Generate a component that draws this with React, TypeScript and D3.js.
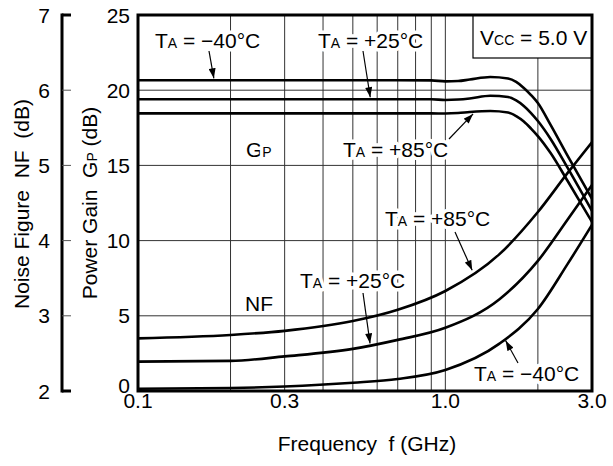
import React from 'react';
import * as d3 from 'd3';

// frequency (GHz) sample points
const freqGain = [0.1, 0.3, 0.7, 0.9, 1.0, 1.1, 1.2, 1.4, 1.6, 1.7, 1.8, 1.9, 2.0, 2.2, 2.5, 3.0];
const gainM40 = [20.66, 20.66, 20.66, 20.65, 20.59, 20.61, 20.71, 20.88, 20.78, 20.55, 20.15, 19.68, 19.15, 17.69, 15.63, 12.77];
const gainP25 = [19.4, 19.4, 19.4, 19.4, 19.35, 19.38, 19.45, 19.63, 19.55, 19.32, 18.95, 18.48, 17.95, 16.76, 14.83, 11.97];
const gainP85 = [18.46, 18.46, 18.46, 18.46, 18.45, 18.48, 18.55, 18.62, 18.52, 18.28, 17.92, 17.45, 16.95, 15.82, 13.96, 11.24];

const freqNF = [0.1, 0.2, 0.3, 0.5, 0.7, 1.0, 1.5, 2.0, 2.5, 3.0];
const nfM40 = [2.03, 2.04, 2.06, 2.11, 2.16, 2.28, 2.63, 3.09, 3.69, 4.21];
const nfP25 = [2.39, 2.4, 2.46, 2.56, 2.68, 2.84, 3.22, 3.73, 4.28, 4.74];
const nfP85 = [2.7, 2.745, 2.8, 2.93, 3.08, 3.33, 3.82, 4.38, 4.9, 5.31];

const xTicks = [0.1, 0.3, 1.0, 3.0];
const xGrid = [0.2, 0.3, 0.4, 0.5, 0.6, 0.7, 0.8, 0.9, 1.0, 2.0];
const gainTicks = [0, 5, 10, 15, 20, 25];
const gainGrid = [5, 10, 15, 20];
const nfTicks = [2, 3, 4, 5, 6, 7];

const W = 613, H = 466;
const m = { left: 138, right: 592, top: 15, bottom: 391 };
const FONT = '"Liberation Sans", Arial, Helvetica, sans-serif';
const FS = 21;
const SUB = 14;

const x = d3.scaleLog().domain([0.1, 3.0]).range([m.left, m.right]);
const yG = d3.scaleLinear().domain([0, 25]).range([m.bottom, m.top]);
const yN = d3.scaleLinear().domain([2, 7]).range([m.bottom, m.top]);

// value of a series at frequency f (linear in log f)
function valueAt(fs: number[], vs: number[], f: number) {
  for (let i = 0; i < fs.length - 1; i++) {
    if (f >= fs[i] && f <= fs[i + 1]) {
      const t = (Math.log(f) - Math.log(fs[i])) / (Math.log(fs[i + 1]) - Math.log(fs[i]));
      return vs[i] + t * (vs[i + 1] - vs[i]);
    }
  }
  return vs[vs.length - 1];
}

const line = (fs: number[], ys: (v: number) => number) =>
  d3.line<number>()
    .x((_, i) => x(fs[i]))
    .y(d => ys(d))
    .curve(d3.curveMonotoneX);

const halo = { stroke: '#fff', strokeWidth: 7, paintOrder: 'stroke', strokeLinejoin: 'round' as const };

const TLabel = ({ px, py, temp }: { px: number; py: number; temp: string }) => (
  <text x={px} y={py} fontSize={FS} style={{ whiteSpace: 'pre', ...halo }}>
    T<tspan fontSize={SUB}>A</tspan>{' = ' + temp}
  </text>
);

// arrow from (x1,y1) to a point on a curve at freq f
const Arrow = ({ x1, y1, fs, vs, f, scale, off }: any) => {
  const tx = x(f), ty = scale(valueAt(fs, vs, f));
  const dx = tx - x1, dy = ty - y1;
  const len = Math.sqrt(dx * dx + dy * dy);
  const ex = tx - (dx / len) * off, ey = ty - (dy / len) * off;
  return <line x1={x1} y1={y1} x2={ex} y2={ey} stroke="#000" strokeWidth={1.2} markerEnd="url(#ah)" />;
};

export default function App() {
  const curves = [
    line(freqNF, yN)(nfM40),
    line(freqNF, yN)(nfP25),
    line(freqNF, yN)(nfP85),
    line(freqGain, yG)(gainM40),
    line(freqGain, yG)(gainP25),
    line(freqGain, yG)(gainP85),
  ];

  return (
    <svg width={W} height={H} style={{ position: 'absolute', left: 0, top: 0, background: '#fff' }}
      fontFamily={FONT}>
      <defs>
        <clipPath id="plotclip">
          <rect x={m.left} y={m.top} width={m.right - m.left} height={m.bottom - m.top} />
        </clipPath>
        <marker id="ah" viewBox="0 0 10 7" refX={10} refY={3.5} markerWidth={11} markerHeight={7}
          markerUnits="userSpaceOnUse" orient="auto">
          <path d="M0,0 L10,3.5 L0,7 z" fill="#000" />
        </marker>
      </defs>

      {/* grid */}
      {xGrid.map(f => (
        <line key={'vx' + f} x1={x(f)} x2={x(f)} y1={m.top} y2={m.bottom} stroke="#333" strokeWidth={1} />
      ))}
      {gainGrid.map(g => (
        <line key={'hg' + g} x1={m.left} x2={m.right} y1={yG(g)} y2={yG(g)} stroke="#333" strokeWidth={1} />
      ))}

      {/* Vcc box */}
      <rect x={473} y={m.top} width={m.right - 473} height={43} fill="#fff" stroke="#000" strokeWidth={1.2} />
      <text x={480} y={45} fontSize={FS} style={{ whiteSpace: 'pre' }}>
        V<tspan fontSize={SUB}>CC</tspan>{' = 5.0 V'}
      </text>

      {/* curves */}
      <g clipPath="url(#plotclip)">
        {curves.map((d, i) => (
          <path key={i} d={d || ''} fill="none" stroke="#000" strokeWidth={2.6} />
        ))}
      </g>

      {/* plot frame */}
      <rect x={m.left} y={m.top} width={m.right - m.left} height={m.bottom - m.top}
        fill="none" stroke="#000" strokeWidth={3} />

      {/* gain axis labels */}
      {gainTicks.map(g => (
        <text key={'gt' + g} x={130} y={g === 0 ? yG(g) + 2 : yG(g) + 7.5} fontSize={FS} textAnchor="end">{g}</text>
      ))}

      {/* NF axis */}
      <line x1={62} x2={62} y1={m.top - 1.5} y2={m.bottom + 1.5} stroke="#000" strokeWidth={3} />
      {nfTicks.map(n => {
        const end = n === 2 || n === 7;
        return (
          <g key={'nt' + n}>
            <line x1={62} x2={71} y1={yN(n)} y2={yN(n)} stroke={end ? '#000' : '#555'} strokeWidth={end ? 3 : 1} />
            <text x={50} y={yN(n) + 7.5} fontSize={FS} textAnchor="end">{n}</text>
          </g>
        );
      })}

      {/* x axis labels */}
      {xTicks.map(f => (
        <text key={'xt' + f} x={x(f)} y={408} fontSize={FS} textAnchor="middle">{d3.format('.1f')(f)}</text>
      ))}
      <text x={367} y={451} fontSize={FS} textAnchor="middle" style={{ whiteSpace: 'pre' }}>Frequency  f (GHz)</text>

      {/* axis titles */}
      <text transform="translate(29,204) rotate(-90)" fontSize={FS} textAnchor="middle" style={{ whiteSpace: 'pre' }}>
        Noise Figure  NF  (dB)
      </text>
      <text transform="translate(97,203) rotate(-90)" fontSize={FS} textAnchor="middle" style={{ whiteSpace: 'pre' }}>
        Power Gain  G<tspan fontSize={SUB}>P</tspan> (dB)
      </text>

      {/* annotations */}
      <TLabel px={155} py={48} temp={'\u221240°C'} />
      <TLabel px={318} py={48} temp={'+25°C'} />
      <text x={246} y={157} fontSize={FS} style={halo}>G<tspan fontSize={SUB}>P</tspan></text>
      <TLabel px={343} py={157} temp={'+85°C'} />
      <TLabel px={385} py={226} temp={'+85°C'} />
      <TLabel px={300} py={288} temp={'+25°C'} />
      <text x={245} y={311} fontSize={FS} style={halo}>NF</text>
      <TLabel px={474} py={381} temp={'\u221240°C'} />

      <Arrow x1={209} y1={51} fs={freqGain} vs={gainM40} f={0.177} scale={yG} off={2} />
      <Arrow x1={363} y1={51} fs={freqGain} vs={gainP25} f={0.571} scale={yG} off={2} />
      <Arrow x1={449} y1={139} fs={freqGain} vs={gainP85} f={1.25} scale={yG} off={3} />
      <Arrow x1={455} y1={232} fs={freqNF} vs={nfP85} f={1.23} scale={yN} off={2} />
      <Arrow x1={363} y1={293} fs={freqNF} vs={nfP25} f={0.57} scale={yN} off={2} />
      <Arrow x1={518} y1={363} fs={freqNF} vs={nfM40} f={1.56} scale={yN} off={2} />
    </svg>
  );
}
